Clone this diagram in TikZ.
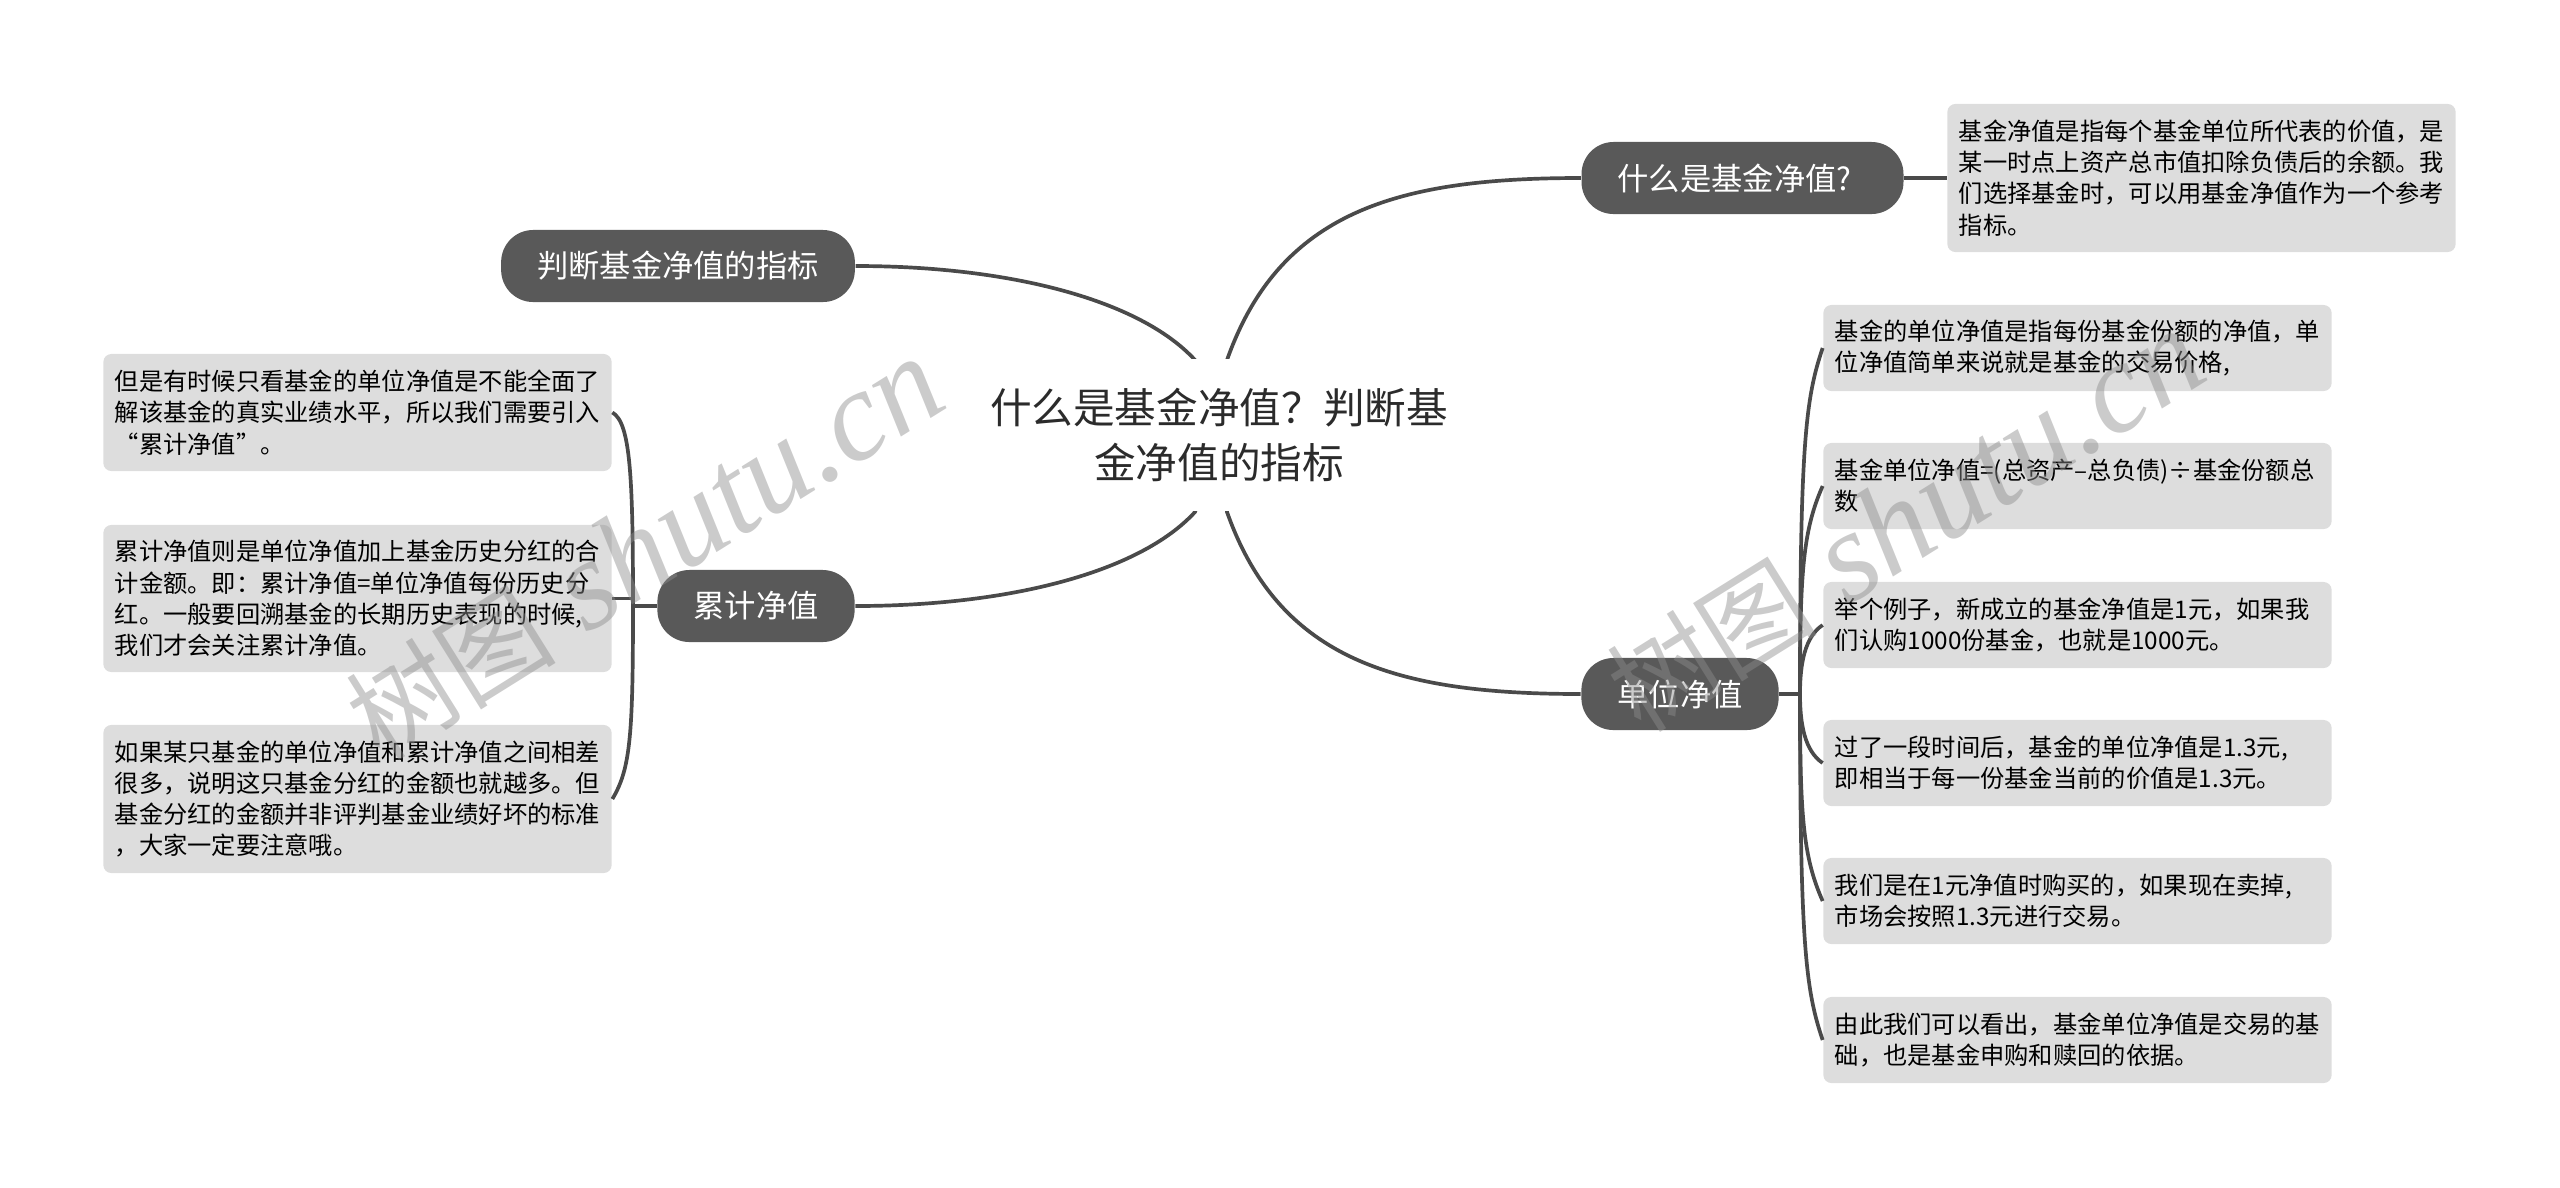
\documentclass[tikz,border=0pt]{standalone}
\usepackage{fontspec}
\setmainfont{Noto Sans CJK SC}
\newfontfamily\markfont{Liberation Serif}
\usetikzlibrary{backgrounds}

\definecolor{pillgray}{HTML}{595959}
\definecolor{leafgray}{HTML}{DDDDDD}
\definecolor{linegray}{HTML}{4A4A4A}
\definecolor{inkgray}{HTML}{2B2B2B}

\tikzset{
  root/.style={fill=white,text=inkgray,align=center,minimum width=4.8cm,minimum height=1.52cm,inner sep=0pt,
    font=\fontsize{11.84pt}{15.65pt}\selectfont},
  topic/.style={fill=pillgray,text=white,rounded corners=0.32cm,minimum height=0.72cm,inner xsep=0.36cm,inner ysep=0pt,
    font=\fontsize{8.9pt}{10pt}\selectfont},
  leaf/.style={fill=leafgray,text=black,rounded corners=0.08cm,text width=4.85cm,align=left,inner xsep=0.115cm,inner ysep=0pt,
    font=\fontsize{6.9pt}{8.9pt}\selectfont},
  link/.style={draw=linegray,line width=1.05pt},
  stamp/.style={text=black!45,opacity=0.45,rotate=32,inner sep=0pt},
}

\begin{document}
\begin{tikzpicture}[x=0.01cm,y=-0.01cm]
\useasboundingbox (0,0) rectangle (2560,1187);

% Root and main topics
\node[root] (main) at (1219,435) {什么是基金净值？判断基\\金净值的指标};
\node[topic] (what) at (1742.5,178) {什么是基金净值?\kern0.16cm};
\node[topic] (judge) at (678,266) {判断基金净值的指标};
\node[topic] (total) at (756,606) {累计净值};
\node[topic] (unit) at (1680,694) {单位净值};

% Hubs
\coordinate (totalhub) at (633,606);
\coordinate (unithub) at (1800,694);

% Where the curves leave the root
\coordinate (rootnw) at (1195,360);
\coordinate (rootne) at (1227,360);
\coordinate (rootsw) at (1195,512);
\coordinate (rootse) at (1227,512);

% Right leaves
\node[leaf,minimum height=1.48cm] (whatnote) at (2201.5,178) {基金净值是指每个基金单位所代表的价值，是\\某一时点上资产总市值扣除负债后的余额。我\\们选择基金时，可以用基金净值作为一个参考\\指标。};
\node[leaf,minimum height=0.86cm] (u1) at (2077.5,348) {基金的单位净值是指每份基金份额的净值，单\\位净值简单来说就是基金的交易价格,};
\node[leaf,minimum height=0.86cm] (u2) at (2077.5,486) {基金单位净值=(总资产–总负债)÷基金份额总\\数};
\node[leaf,minimum height=0.86cm] (u3) at (2077.5,625) {举个例子，新成立的基金净值是1元，如果我\\们认购1000份基金，也就是1000元。};
\node[leaf,minimum height=0.86cm] (u4) at (2077.5,763) {过了一段时间后，基金的单位净值是1.3元,\\即相当于每一份基金当前的价值是1.3元。};
\node[leaf,minimum height=0.86cm] (u5) at (2077.5,901) {我们是在1元净值时购买的，如果现在卖掉,\\市场会按照1.3元进行交易。};
\node[leaf,minimum height=0.86cm] (u6) at (2077.5,1040) {由此我们可以看出，基金单位净值是交易的基\\础，也是基金申购和赎回的依据。};

% Left leaves
\node[leaf,minimum height=1.17cm] (t1) at (357.5,412.5) {但是有时候只看基金的单位净值是不能全面了\\解该基金的真实业绩水平，所以我们需要引入\\“累计净值”。};
\node[leaf,minimum height=1.47cm] (t2) at (357.5,598.5) {累计净值则是单位净值加上基金历史分红的合\\计金额。即：累计净值=单位净值每份历史分\\红。一般要回溯基金的长期历史表现的时候,\\我们才会关注累计净值。};
\node[leaf,minimum height=1.48cm] (t3) at (357.5,799) {如果某只基金的单位净值和累计净值之间相差\\很多，说明这只基金分红的金额也就越多。但\\基金分红的金额并非评判基金业绩好坏的标准\\，大家一定要注意哦。};

\begin{pgfonlayer}{background}
% Curves from the root
\draw[link] (main.center) -- (rootnw) .. controls (1140,300) and (1010,266) .. (judge.east);
\draw[link] (main.center) -- (rootsw) .. controls (1140,572) and (1010,606) .. (total.east);
\draw[link] (main.center) -- (rootne) .. controls (1280,210) and (1400,178) .. (what.west);
\draw[link] (main.center) -- (rootse) .. controls (1280,662) and (1400,694) .. (unit.west);
\end{pgfonlayer}

% What is it
\draw[link] (what.east) -- (whatnote.west);

% Unit value
\draw[link] (unit.east) -- (unithub);
\draw[link] (unithub) .. controls +(0,-250) and +(-17,50) .. (u1.west);
\draw[link] (unithub) .. controls +(0,-120) and +(-20,45) .. (u2.west);
\draw[link] (unithub) .. controls +(0,-30) and +(-18,12) .. (u3.west);
\draw[link] (unithub) .. controls +(0,30) and +(-18,-12) .. (u4.west);
\draw[link] (unithub) .. controls +(0,120) and +(-20,-45) .. (u5.west);
\draw[link] (unithub) .. controls +(0,250) and +(-17,-50) .. (u6.west);

% Accumulated value
\draw[link] (total.west) -- (totalhub);
\draw[link] (totalhub) .. controls +(0,-130) and +(18,10) .. (t1.east);
\draw[link] (totalhub) -- (totalhub |- t2.east) -- (t2.east);
\draw[link] (totalhub) .. controls +(0,130) and +(18,-30) .. (t3.east);

% Watermarks
\node[stamp,font=\fontsize{36.5pt}{36.5pt}\selectfont\markfont\itshape] (mark1) at (645,550) {{\fontsize{30pt}{30pt}\selectfont\rmfamily\upshape 树图} shutu.cn};
\node[stamp,font=\fontsize{36.5pt}{36.5pt}\selectfont\markfont\itshape] (mark2) at (1906,522) {{\fontsize{30pt}{30pt}\selectfont\rmfamily\upshape 树图} shutu.cn};
\end{tikzpicture}
\end{document}
